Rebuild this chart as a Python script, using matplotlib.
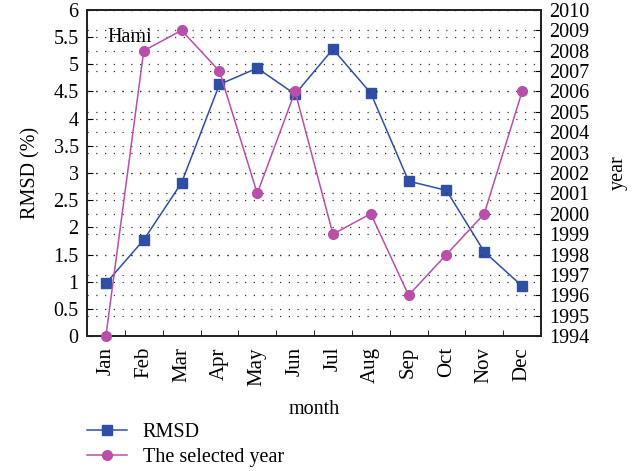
import matplotlib
matplotlib.use("Agg")
import matplotlib.pyplot as plt
from matplotlib.ticker import MultipleLocator, FuncFormatter, FixedLocator

plt.rcParams['font.family'] = ['Liberation Serif', 'DejaVu Serif']

months = ["Jan", "Feb", "Mar", "Apr", "May", "Jun",
          "Jul", "Aug", "Sep", "Oct", "Nov", "Dec"]
rmsd = [0.97, 1.77, 2.82, 4.63, 4.93, 4.45, 5.28, 4.47, 2.85, 2.68, 1.55, 0.92]
selected_year = [1994, 2008, 2009, 2007, 2001, 2006, 1999, 2000, 1996, 1998, 2000, 2006]

blue = "#2f4fa6"
pink = "#b84fa8"
fs = 14.5

fig = plt.figure(figsize=(6.43, 4.71), dpi=100)
ax = fig.add_axes([0.1353, 0.2866, 0.7061, 0.6922])
ax2 = ax.twinx()

x = list(range(1, len(months) + 1))

l1, = ax.plot(x, rmsd, color=blue, marker="s", markersize=7, linewidth=1.1,
              label="RMSD", zorder=3)
l2, = ax2.plot(x, selected_year, color=pink, marker="o", markersize=7,
               linewidth=1.1, label="The selected year", zorder=3, clip_on=False)

ax.set_xlim(0.5, 12.5)
ax.set_ylim(0, 6)
ax2.set_ylim(1994, 2010)

# left axis ticks
ax.yaxis.set_major_locator(MultipleLocator(0.5))
ax.yaxis.set_major_formatter(FuncFormatter(lambda v, p: f"{v:g}"))
ax.tick_params(axis="y", direction="in", length=4, labelsize=fs, pad=6)

# month labels at centers, tick marks at month boundaries
ax.set_xticks(x)
ax.set_xticklabels(months, rotation=90, fontsize=fs + 0.5)
ax.tick_params(axis="x", which="major", length=0, pad=8)
ax.xaxis.set_minor_locator(FixedLocator([i + 0.5 for i in range(1, 12)]))
ax.tick_params(axis="x", which="minor", direction="in", length=4)

# right axis ticks
ax2.yaxis.set_major_locator(MultipleLocator(1))
ax2.yaxis.set_major_formatter(FuncFormatter(lambda v, p: f"{int(round(v))}"))
ax2.tick_params(axis="y", direction="in", length=4, labelsize=fs, pad=6)

# dotted horizontal grid from both axes
ax.grid(axis="y", color="#333333", linestyle=(0, (1, 6)), linewidth=0.9)
ax2.grid(axis="y", color="#333333", linestyle=(0, (1, 6)), linewidth=0.9)
ax.set_axisbelow(True)

for a in (ax, ax2):
    for s in a.spines.values():
        s.set_linewidth(1.3)
        s.set_color("#222222")

ax.set_ylabel("RMSD (%)", fontsize=fs, labelpad=9)
ax2.set_ylabel("year", fontsize=fs, labelpad=14)
ax.set_xlabel("month", fontsize=fs, labelpad=10)

ax.text(0.045, 0.915, "Hami", transform=ax.transAxes, fontsize=fs,
        ha="left", va="center")

fig.legend(handles=[l1, l2], loc="upper left", bbox_to_anchor=(0.122, 0.12),
           frameon=False, fontsize=fs, handlelength=2.0, handletextpad=0.8,
           labelspacing=0.3, borderaxespad=0)

fig.savefig("out.png", dpi=100)
